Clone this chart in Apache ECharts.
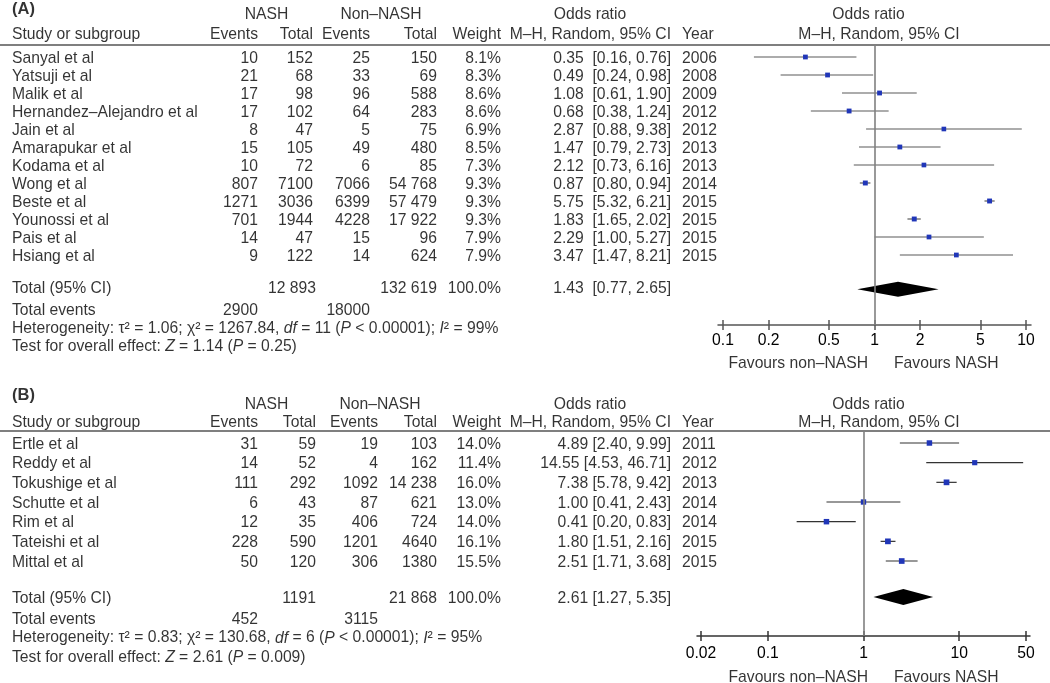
<!DOCTYPE html>
<html><head><meta charset="utf-8">
<script src="https://cdn.jsdelivr.net/npm/echarts@6.0.0/dist/echarts.min.js"></script>
<style>html,body{margin:0;padding:0;background:#fff}#c{width:1050px;height:683px}</style>
</head><body><div id="c"></div>
<script>
// ---------- Panel A data ----------
const studiesA = ['Sanyal et al','Yatsuji et al','Malik et al','Hernandez–Alejandro et al','Jain et al','Amarapukar et al','Kodama et al','Wong et al','Beste et al','Younossi et al','Pais et al','Hsiang et al'];
const nashEventsA = [10,21,17,17,8,15,10,807,1271,701,14,9];
const nashTotalA = [152,68,98,102,47,105,72,7100,3036,1944,47,122];
const nonEventsA = [25,33,96,64,5,49,6,7066,6399,4228,15,14];
const nonTotalA = [150,69,588,283,75,480,85,54768,57479,17922,96,624];
const weightA = [8.1,8.3,8.6,8.6,6.9,8.5,7.3,9.3,9.3,9.3,7.9,7.9];
const orA = [0.35,0.49,1.08,0.68,2.87,1.47,2.12,0.87,5.75,1.83,2.29,3.47];
const lowA = [0.16,0.24,0.61,0.38,0.88,0.79,0.73,0.80,5.32,1.65,1.00,1.47];
const highA = [0.76,0.98,1.90,1.24,9.38,2.73,6.16,0.94,6.21,2.02,5.27,8.21];
const yearA = [2006,2008,2009,2012,2012,2013,2013,2014,2015,2015,2015,2015];
const totalA = {nashTotal:12893, nonTotal:132619, weight:100.0, or:1.43, low:0.77, high:2.65, nashEvents:'2900', nonEvents:'18000'};
const hetA = 'Heterogeneity: τ² = 1.06; χ² = 1267.84, {i|df} = 11 ({i|P} < 0.00001); {i|I}² = 99%';
const testA = 'Test for overall effect: {i|Z} = 1.14 ({i|P} = 0.25)';
const ticksA = [0.1,0.2,0.5,1,2,5,10];

// ---------- Panel B data ----------
const studiesB = ['Ertle et al','Reddy et al','Tokushige et al','Schutte et al','Rim et al','Tateishi et al','Mittal et al'];
const nashEventsB = [31,14,111,6,12,228,50];
const nashTotalB = [59,52,292,43,35,590,120];
const nonEventsB = [19,4,1092,87,406,1201,306];
const nonTotalB = [103,162,14238,621,724,4640,1380];
const weightB = [14.0,11.4,16.0,13.0,14.0,16.1,15.5];
const orB = [4.89,14.55,7.38,1.00,0.41,1.80,2.51];
const lowB = [2.40,4.53,5.78,0.41,0.20,1.51,1.71];
const highB = [9.99,46.71,9.42,2.43,0.83,2.16,3.68];
const yearB = [2011,2012,2013,2014,2014,2015,2015];
const totalB = {nashTotal:1191, nonTotal:21868, weight:100.0, or:2.61, low:1.27, high:5.35, nashEvents:'452', nonEvents:'3115'};
const hetB = 'Heterogeneity: τ² = 0.83; χ² = 130.68, {i|df} = 6 ({i|P} < 0.00001); {i|I}² = 95%';
const testB = 'Test for overall effect: {i|Z} = 2.61 ({i|P} = 0.009)';
const ticksB = [0.02,0.1,1,10,50];

// ---------- rendering ----------
const FONT = '"Liberation Sans", Arial, sans-serif';
const FS = 15.7;
const TEXT_SHIFT = 1.2; // px nudge of table text
const RICH = { i: {fontStyle:'italic', fontSize:FS, fontFamily:FONT, color:'#000'} };
function grp(n){ const s = String(n); return n >= 10000 ? s.replace(/\B(?=(\d{3})+(?!\d))/g, ' ') : s; }
function f2(v){ return v.toFixed(2); }

const grids = [], xAxes = [], yAxes = [], series = [];

function addPanel(P) {
  // table grid (pixel-like x, row-unit y)
  const gT = grids.length;
  grids.push({left:0, width:1050, top:P.tableTop, height:P.tableH});
  const xT = xAxes.length, yT = yAxes.length;
  xAxes.push({type:'value', gridIndex:gT, min:0, max:1050, show:false});
  yAxes.push({type:'value', gridIndex:gT, inverse:true, show:false,
    min:(P.tableTop - TEXT_SHIFT - P.y0)/P.step, max:(P.tableTop + P.tableH - TEXT_SHIFT - P.y0)/P.step});

  const C = P.cols, R = P.rows, items = [];
  const add = (text, x, r, align, extra) => items.push(Object.assign({text, x, r, align}, extra || {}));
  add(P.tag, 12, R.tag, 'left', {bold:true});
  add('NASH', C.nashHdr, R.h1, 'center');
  add('Non–NASH', C.nonHdr, R.h1, 'center');
  add('Odds ratio', 590, R.h1, 'center');
  add('Odds ratio', 868.5, R.h1, 'center');
  add('Study or subgroup', 12, R.h2, 'left');
  add('Events', C.nashEv, R.h2, 'right');
  add('Total', C.nashTot, R.h2, 'right');
  add('Events', C.nonEv, R.h2, 'right');
  add('Total', C.nonTot, R.h2, 'right');
  add('Weight', 501, R.h2, 'right');
  add('M–H, Random, 95% CI', 671, R.h2, 'right');
  add('Year', 682, R.h2, 'left');
  add('M–H, Random, 95% CI', 879, R.h2, 'center');
  P.studies.forEach((s, i) => {
    add(s, 12, i, 'left');
    add(grp(P.nashEvents[i]), C.nashEv, i, 'right');
    add(grp(P.nashTotal[i]), C.nashTot, i, 'right');
    add(grp(P.nonEvents[i]), C.nonEv, i, 'right');
    add(grp(P.nonTotal[i]), C.nonTot, i, 'right');
    add(P.weight[i].toFixed(1) + '%', 501, i, 'right');
    add(f2(P.or[i]) + P.sep + '[' + f2(P.low[i]) + ', ' + f2(P.high[i]) + ']', 671, i, 'right');
    add(String(P.year[i]), 682, i, 'left');
  });
  const T = P.total;
  add('Total (95% CI)', 12, R.total, 'left');
  add(grp(T.nashTotal), C.nashTotT, R.total, 'right');
  add(grp(T.nonTotal), C.nonTot, R.total, 'right');
  add(T.weight.toFixed(1) + '%', 501, R.total, 'right');
  add(f2(T.or) + P.sep + '[' + f2(T.low) + ', ' + f2(T.high) + ']', 671, R.total, 'right');
  add('Total events', 12, R.events, 'left');
  add(T.nashEvents, C.nashEv, R.events, 'right');
  add(T.nonEvents, C.nonEv, R.events, 'right');
  add(P.het, 12, R.het, 'left');
  add(P.test, 12, R.test, 'left');
  add('Favours non–NASH', 868, R.fav, 'right');
  add('Favours NASH', 894, R.fav, 'left');

  series.push({
    type:'scatter', xAxisIndex:xT, yAxisIndex:yT, symbolSize:0, silent:true, clip:false,
    label:{show:true, position:'inside', formatter:p => p.name, color:'#000', fontSize:FS, fontFamily:FONT, verticalAlign:'middle', rich:RICH},
    data: items.map(t => ({name:t.text, value:[t.x, t.r],
      label:{align:t.align, fontWeight:t.bold ? 'bold' : 'normal', fontSize:t.bold ? 16.5 : FS}})),
    markLine:{silent:true, symbol:'none', label:{show:false}, animation:false,
      lineStyle:{color:'#7f7f7f', width:2, type:'solid'}, data:[{yAxis:R.line - TEXT_SHIFT/P.step}]}
  });

  // forest plot grid
  const gP = grids.length;
  grids.push({left:P.plotLeft, width:P.plotW, top:P.plotTop, height:P.plotH});
  const xa = xAxes.length, ya = yAxes.length;
  const labelFmt = v => String(parseFloat(Number(v).toPrecision(3)));
  xAxes.push({type:'log', logBase:10, gridIndex:gP, min:P.xMin, max:P.xMax, position:'bottom',
    axisLine:{show:true, onZero:false, lineStyle:{color:P.axisColor, width:1.5}},
    axisTick:{show:true, inside:false, length:5, customValues:P.ticks, lineStyle:{color:P.axisColor, width:1.5}},
    axisLabel:{show:true, customValues:P.ticks, formatter:labelFmt, color:'#000', fontSize:FS, fontFamily:FONT, margin:P.labelMargin},
    splitLine:{show:false}, minorTick:{show:false}});
  xAxes.push({type:'log', logBase:10, gridIndex:gP, min:P.xMin, max:P.xMax, position:'bottom',
    axisLine:{show:false, onZero:false},
    axisTick:{show:true, inside:true, length:5, customValues:P.ticks, lineStyle:{color:P.axisColor, width:1.5}},
    axisLabel:{show:false}, splitLine:{show:false}});
  yAxes.push({type:'value', gridIndex:gP, inverse:true, show:false,
    min:(P.plotTop - P.y0)/P.step, max:(P.plotTop + P.plotH - P.y0)/P.step});

  // CI whiskers
  series.push({type:'custom', xAxisIndex:xa, yAxisIndex:ya, silent:true, clip:false,
    data: P.or.map((v, i) => [P.low[i], P.high[i], i]),
    encode:{x:[0,1], y:2},
    renderItem:(params, api) => {
      const a = api.coord([api.value(0), api.value(2)]);
      const b = api.coord([api.value(1), api.value(2)]);
      return {type:'line', shape:{x1:a[0], y1:a[1], x2:b[0], y2:b[1]}, style:{stroke:P.ciColor, lineWidth:1.2}};
    }});
  // point estimates + line of no effect
  series.push({type:'scatter', xAxisIndex:xa, yAxisIndex:ya, silent:true, symbol:'rect',
    symbolSize: v => 3.8 + v[2]*0.12,
    itemStyle:{color:'#2036b8', opacity:1},
    data: P.or.map((v, i) => [v, i, P.weight[i]]),
    markLine:{silent:true, symbol:'none', label:{show:false}, animation:false,
      lineStyle:{color:'#808080', width:1.6, type:'solid'}, data:[{xAxis:1}]}});
  // pooled diamond
  series.push({type:'custom', xAxisIndex:xa, yAxisIndex:ya, silent:true, clip:false,
    data:[[T.low, T.high, T.or, R.total + P.diaShift]],
    encode:{x:[0,1,2], y:3},
    renderItem:(params, api) => {
      const lo = api.coord([api.value(0), api.value(3)]);
      const hi = api.coord([api.value(1), api.value(3)]);
      const md = api.coord([api.value(2), api.value(3)]);
      const h = P.diaH;
      return {type:'polygon', shape:{points:[[lo[0],lo[1]],[md[0],md[1]-h],[hi[0],hi[1]],[md[0],md[1]+h]]}, style:{fill:'#000'}};
    }});
}

addPanel({
  tag:'(A)', studies:studiesA, nashEvents:nashEventsA, nashTotal:nashTotalA, nonEvents:nonEventsA, nonTotal:nonTotalA,
  weight:weightA, or:orA, low:lowA, high:highA, year:yearA, total:totalA, het:hetA, test:testA, ticks:ticksA, sep:'  ',
  y0:57, step:18, tableTop:0, tableH:372, plotTop:45, plotH:280, plotLeft:718, plotW:313,
  xMin:0.0927, xMax:10.79, labelMargin:8, axisColor:'#555', ciColor:'#5a5a5a', diaH:7.5, diaShift:0.1,
  cols:{nashHdr:266.5, nonHdr:381, nashEv:258, nashTot:313, nashTotT:316, nonEv:370, nonTot:437},
  rows:{tag:-2.72, h1:-2.42, h2:-1.31, line:-0.667, total:12.8, events:14, het:15, test:16.05, fav:16.95}
});
addPanel({
  tag:'(B)', studies:studiesB, nashEvents:nashEventsB, nashTotal:nashTotalB, nonEvents:nonEventsB, nonTotal:nonTotalB,
  weight:weightB, or:orB, low:lowB, high:highB, year:yearB, total:totalB, het:hetB, test:testB, ticks:ticksB, sep:' ',
  y0:443, step:19.67, tableTop:376, tableH:307, plotTop:431, plotH:205, plotLeft:697, plotW:333,
  xMin:0.01816, xMax:55.07, labelMargin:10, axisColor:'#333', ciColor:'#333', diaH:8, diaShift:0,
  cols:{nashHdr:266.5, nonHdr:380, nashEv:258, nashTot:316, nashTotT:316, nonEv:378, nonTot:437},
  rows:{tag:-2.5, h1:-2.03, h2:-1.07, line:-0.61, total:7.83, events:8.9, het:9.86, test:10.83, fav:11.85}
});

const chart = echarts.init(document.getElementById('c'), null, {renderer:'canvas'});
chart.setOption({
  animation:false,
  backgroundColor:'#fff',
  textStyle:{fontFamily:FONT},
  grid:grids, xAxis:xAxes, yAxis:yAxes, series:series
});
</script></body></html>
